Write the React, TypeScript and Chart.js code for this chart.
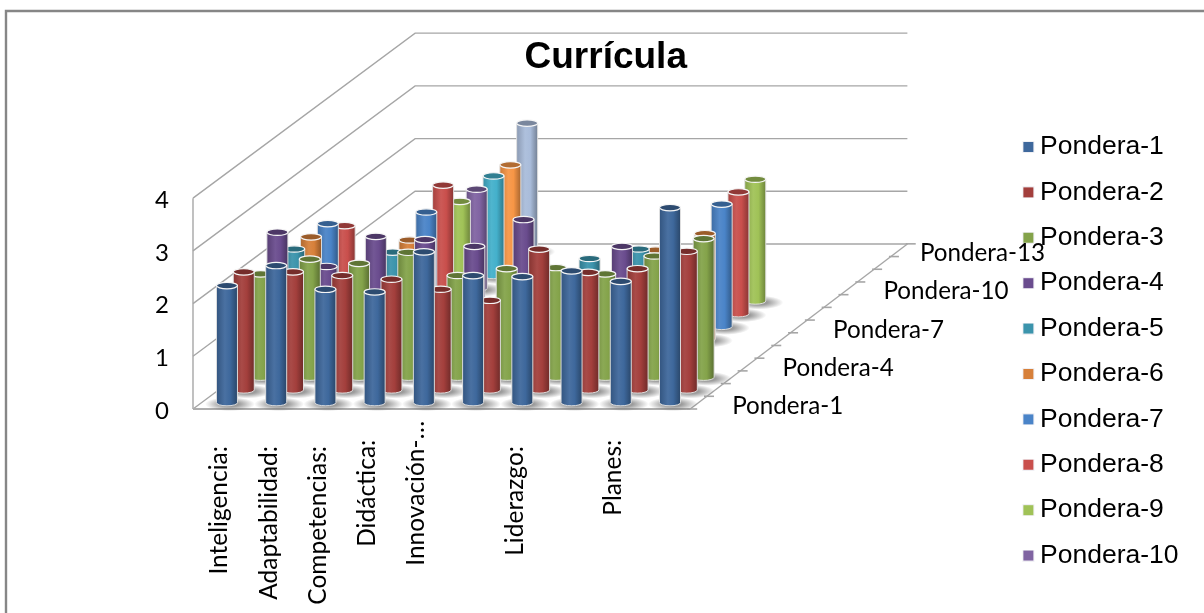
import React, { useEffect, useRef } from "react";
import { Chart, registerables } from "chart.js";

Chart.register(...registerables);

const chartTitle = "Currícula";
const categories = ["Inteligencia:", "Adaptabilidad:", "Competencias:", "Didáctica:", "Innovación-…", "", "Liderazgo:", "", "Planes:", ""];
const categoryLabelDrop = [4, 4, 4, 3, 0, 0, 4, 0, 3, 0];
const depthLabels = ["Pondera-1", "", "", "Pondera-4", "", "", "Pondera-7", "", "", "Pondera-10", "", "", "Pondera-13"];
const valueTicks = [0, 1, 2, 3, 4];
const legendCount = 10;

const pondera1 = [2.22, 2.6, 2.15, 2.1, 2.86, 2.41, 2.39, 2.5, 2.3, 3.7];
const pondera2 = [2.24, 2.24, 2.17, 2.1, 1.91, 1.7, 2.67, 2.23, 2.3, 2.63];
const pondera3 = [1.96, 2.24, 2.16, 2.37, 1.93, 2.06, 2.08, 1.96, 2.3, 2.63];
const pondera4 = [2.51, 1.86, 2.43, 2.37, 2.24, 2.75, null, 2.24, null, null];
const pondera5 = [1.95, null, 1.89, null, null, null, 1.77, 1.95, null, null];
const pondera6 = [1.94, null, 1.88, null, null, null, null, 1.69, 2.0, null];
const pondera7 = [1.95, null, 2.17, null, null, null, null, null, 2.32, null];
const pondera8 = [1.67, null, 2.44, null, null, null, null, null, 2.31, null];
const pondera9 = [null, null, 1.89, null, null, null, null, null, 2.31, null];
const pondera10 = [null, null, 1.88, null, null, null, null, null, null, null];
const pondera11 = [null, null, 1.89, null, null, null, null, null, null, null];
const pondera12 = [null, null, 1.86, null, null, null, null, null, null, null];
const pondera13 = [null, null, 2.41, null, null, null, null, null, null, null];

const seriesValues = [pondera1, pondera2, pondera3, pondera4, pondera5, pondera6, pondera7, pondera8, pondera9, pondera10, pondera11, pondera12, pondera13];
const seriesColors = ["#3E689C", "#A33F3C", "#84A34A", "#6A4C8E", "#3B94AC", "#D7803A", "#4A84C8", "#C94F4C", "#A0C257", "#8064A2", "#44B0CB", "#F79646", "#A9BCDA"];

// Oblique projection, expressed in units of the x and y scales.
const X_ORIGIN = 0.19;
const X_PER_DEPTH = 0.3415;
const Y_ORIGIN = 0.121;
const Y_PER_DEPTH = 0.241;
const WALL_DX = 4.512;
const WALL_DY = 3.13;
const FLOOR_RIGHT = 9.6;

function shade(hex: string, k: number) {
  const n = parseInt(hex.slice(1), 16);
  const f = (c: number) => Math.max(0, Math.min(255, Math.round(k <= 1 ? c * k : c + (255 - c) * (k - 1))));
  return `rgb(${f((n >> 16) & 255)},${f((n >> 8) & 255)},${f(n & 255)})`;
}

function drawCylinder(ctx: CanvasRenderingContext2D, x: number, top: number, base: number, width: number, color: string) {
  const r = width / 2;
  const ry = 3.2;
  // floor shadow
  ctx.save();
  ctx.translate(x + 3, base + 1.5);
  ctx.scale(1, 0.28);
  const sh = ctx.createRadialGradient(0, 0, 9, 0, 0, 25);
  sh.addColorStop(0, "rgba(90,90,90,0.6)");
  sh.addColorStop(1, "rgba(90,90,90,0)");
  ctx.fillStyle = sh;
  ctx.beginPath();
  ctx.arc(0, 0, 25, 0, Math.PI * 2);
  ctx.fill();
  ctx.restore();
  // body
  const g = ctx.createLinearGradient(x - r, 0, x + r, 0);
  g.addColorStop(0, shade(color, 0.82));
  g.addColorStop(0.4, shade(color, 1.06));
  g.addColorStop(0.65, shade(color, 1));
  g.addColorStop(1, shade(color, 0.68));
  ctx.beginPath();
  ctx.moveTo(x - r, top);
  ctx.lineTo(x - r, base);
  ctx.ellipse(x, base, r, ry, 0, Math.PI, 0, true);
  ctx.lineTo(x + r, top);
  ctx.closePath();
  ctx.fillStyle = g;
  ctx.fill();
  ctx.strokeStyle = "rgba(226,226,226,0.95)";
  ctx.lineWidth = 1;
  ctx.stroke();
  // cap
  ctx.beginPath();
  ctx.ellipse(x, top, r, ry, 0, 0, Math.PI * 2);
  ctx.fillStyle = shade(color, 0.72);
  ctx.fill();
  ctx.strokeStyle = "rgba(245,245,245,1)";
  ctx.lineWidth = 1.2;
  ctx.stroke();
}

const cylinderPlugin = {
  id: "cylinders",
  beforeDatasetDraw(chart: any, args: any) {
    const ctx = chart.ctx;
    args.meta.data.forEach((el: any) => {
      drawCylinder(ctx, el.x, el.y, el.base, el.width, seriesColors[args.index]);
    });
    return false;
  },
};

const obliqueGridPlugin = {
  id: "obliqueGrid",
  beforeDatasetsDraw(chart: any) {
    const { ctx, scales } = chart;
    const X = scales.x;
    const Y = scales.y;
    const line = (pts: number[][], w = 1.4, c = "#A6A6A6") => {
      ctx.beginPath();
      pts.forEach((p, i) => (i ? ctx.lineTo(p[0], p[1]) : ctx.moveTo(p[0], p[1])));
      ctx.strokeStyle = c;
      ctx.lineWidth = w;
      ctx.stroke();
    };
    const wallLeft = X.min;
    const px = (u: number) => X.getPixelForValue(u);
    const py = (v: number) => Y.getPixelForValue(v);
    valueTicks.forEach((v) => {
      line([
        [px(wallLeft), py(v)],
        [px(wallLeft + WALL_DX), py(v + WALL_DY)],
        [px(FLOOR_RIGHT + WALL_DX - 0.1), py(v + WALL_DY)],
      ]);
    });
    line([[px(wallLeft), py(valueTicks[valueTicks.length - 1])], [px(wallLeft), py(0)]]);
    line([[px(wallLeft), py(0)], [px(FLOOR_RIGHT), py(0)]], 2, "#ADADAD");
    line([[px(FLOOR_RIGHT), py(0)], [px(FLOOR_RIGHT + WALL_DX - 0.1), py(WALL_DY)]]);
    // depth axis ticks
    for (let d = 0; d <= depthLabels.length; d++) {
      const tx = px(FLOOR_RIGHT + d * X_PER_DEPTH);
      const ty = py(d * Y_PER_DEPTH);
      line([[tx - 3, ty], [tx + 7, ty]], 1.6);
    }
    // depth axis labels
    ctx.save();
    ctx.font = "24.2px Lato";
    ctx.fillStyle = "#000";
    ctx.textAlign = "left";
    ctx.textBaseline = "middle";
    depthLabels.forEach((label, d) => {
      if (!label) return;
      const w = ctx.measureText(label).width;
      const x = Math.min(px(FLOOR_RIGHT + d * X_PER_DEPTH) + 42, 1045 - w);
      ctx.fillText(label, x, py(d * Y_PER_DEPTH) - 3);
    });
    ctx.restore();
  },
};

const framePlugin = {
  id: "frame",
  beforeDraw(chart: any) {
    const { ctx, width, height } = chart;
    ctx.save();
    ctx.fillStyle = "#fff";
    ctx.fillRect(0, 0, width, height);
    ctx.strokeStyle = "#868686";
    ctx.lineWidth = 2.4;
    ctx.beginPath();
    ctx.moveTo(6, height);
    ctx.lineTo(6, 11);
    ctx.lineTo(width, 11);
    ctx.stroke();
    ctx.restore();
  },
};

function legendSwatch(color: string) {
  const c = document.createElement("canvas");
  c.width = 17;
  c.height = 12;
  const x = c.getContext("2d")!;
  x.fillStyle = "rgba(230,230,236,0.6)";
  x.fillRect(4, 0, 12, 12);
  x.fillStyle = color;
  x.fillRect(5, 1, 10, 10);
  return c;
}

export default function App() {
  const ref = useRef<HTMLCanvasElement | null>(null);

  useEffect(() => {
    if (!ref.current) return;
    const swatches = seriesColors.map(legendSwatch);
    const datasets = seriesValues.map((values, d) => ({
      label: `Pondera-${d + 1}`,
      backgroundColor: seriesColors[d],
      barThickness: 21,
      grouped: false,
      clip: false as const,
      data: values.flatMap((v, c) =>
        v === null
          ? []
          : [{ x: c + X_ORIGIN + X_PER_DEPTH * d, y: [Y_ORIGIN + Y_PER_DEPTH * d, Y_ORIGIN + Y_PER_DEPTH * d + v] }]
      ),
    }));

    const chart = new Chart(ref.current, {
      type: "bar",
      data: { datasets: datasets as any },
      plugins: [framePlugin, obliqueGridPlugin, cylinderPlugin],
      options: {
        animation: false,
        responsive: false,
        devicePixelRatio: 1,
        events: [],
        layout: { padding: { left: 22.9, right: 15.4, top: 0, bottom: 0 } },
        plugins: {
          tooltip: { enabled: false },
          title: {
            display: true,
            text: chartTitle,
            color: "#000",
            font: { family: "'Liberation Sans'", size: 37, weight: "bold", lineHeight: 1.2 },
            padding: { top: 36, bottom: 6 },
          },
          legend: {
            position: "right",
            align: "start",
            title: { display: true, text: "", padding: 50.2, font: { size: 12, lineHeight: 1.2 } },
            labels: {
              color: "#000",
              font: { family: "'Liberation Sans'", size: 26.5 },
              padding: 18.9,
              usePointStyle: true,
              pointStyleWidth: 0.01,
              boxHeight: 11,
              generateLabels: (c: any) =>
                c.data.datasets.slice(0, legendCount).map((ds: any, i: number) => ({
                  text: ds.label,
                  fillStyle: seriesColors[i],
                  strokeStyle: seriesColors[i],
                  fontColor: "#000",
                  lineWidth: 0,
                  hidden: false,
                  datasetIndex: i,
                  pointStyle: swatches[i],
                })),
            },
          },
        },
        scales: {
          x: {
            type: "linear",
            offset: false,
            min: -0.5,
            max: 16.055,
            grid: { display: false },
            border: { display: false },
            afterFit: (s: any) => {
              s.height = 204;
            },
            afterBuildTicks: (s: any) => {
              s.ticks = categories.map((_, i) => ({ value: i + 0.04 }));
            },
            ticks: {
              autoSkip: false,
              maxRotation: 90,
              minRotation: 90,
              padding: 4,
              color: "#000",
              font: { family: "Lato", size: 24.5 },
              callback: (_v: any, i: number) => (categories[i] ?? "") + " ".repeat(categoryLabelDrop[i] ?? 0),
            },
          },
          y: {
            type: "linear",
            min: 0,
            max: 6.12,
            grid: { display: false },
            border: { display: false },
            afterFit: (s: any) => {
              s.width = 170.1;
            },
            afterBuildTicks: (s: any) => {
              s.ticks = valueTicks.map((v) => ({ value: v }));
            },
            ticks: {
              padding: 16,
              labelOffset: 2,
              color: "#000",
              font: { family: "Lato", size: 24 },
            },
          },
        },
      } as any,
    });
    return () => chart.destroy();
  }, []);

  return (
    <div style={{ position: "absolute", left: 0, top: 0, width: 1204, height: 613 }}>
      <canvas ref={ref} width={1204} height={613} style={{ display: "block" }} />
    </div>
  );
}
